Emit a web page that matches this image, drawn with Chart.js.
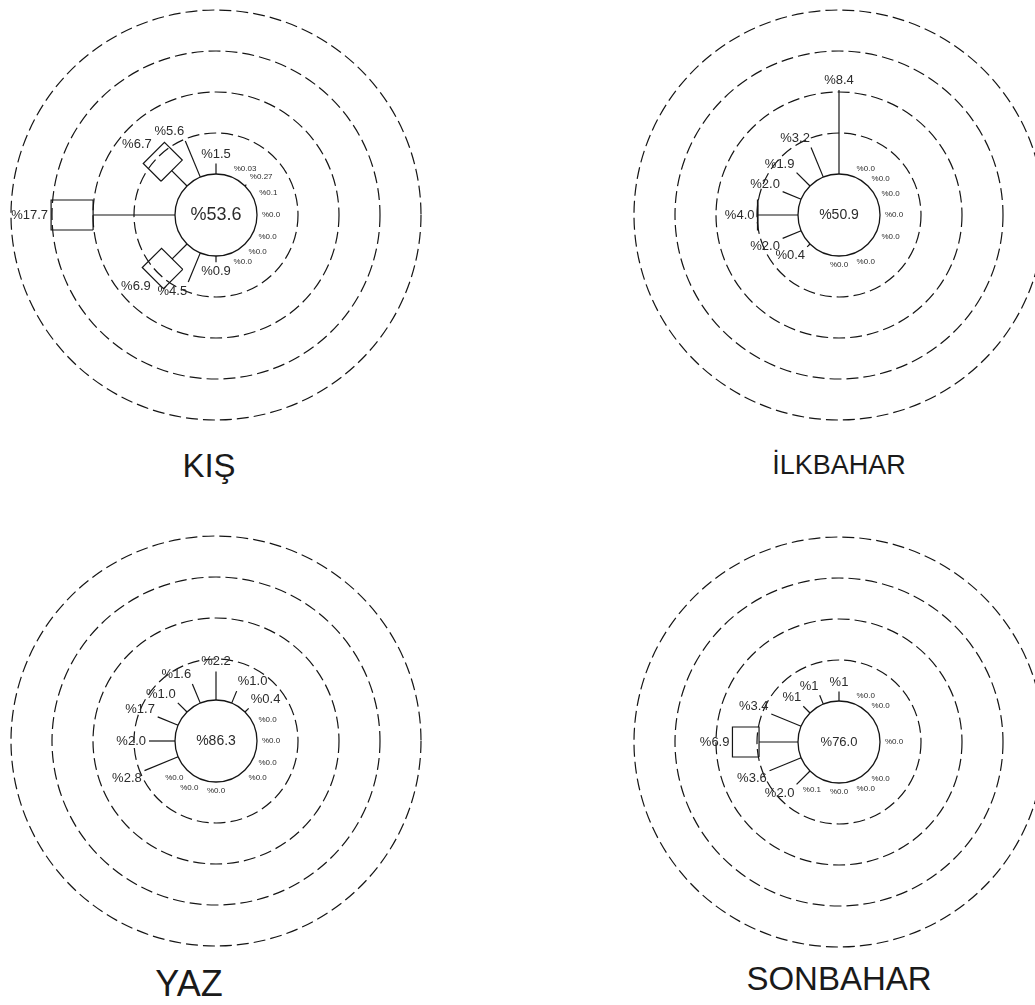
<!DOCTYPE html>
<html>
<head>
<meta charset="utf-8">
<script src="https://cdn.jsdelivr.net/npm/chart.js@4.4.0/dist/chart.umd.min.js"></script>
<style>
body { margin: 0; background: #fff; overflow: hidden; width: 1035px; height: 1005px; position: relative; font-family: "Liberation Sans", Arial, sans-serif; }
canvas { position: absolute; }
.title { position: absolute; color: #1a1a1a; transform: translate(-50%, -50%); white-space: nowrap; }
</style>
</head>
<body>
<canvas id="kis" width="434" height="434" style="left:-1px;top:-2px"></canvas>
<canvas id="ilkbahar" width="434" height="434" style="left:622px;top:-2px"></canvas>
<canvas id="yaz" width="434" height="434" style="left:-1px;top:524px"></canvas>
<canvas id="sonbahar" width="434" height="434" style="left:622px;top:525px"></canvas>
<div class="title" style="left:209px;top:466px;font-size:33px">KIŞ</div>
<div class="title" style="left:839px;top:465px;font-size:27px">İLKBAHAR</div>
<div class="title" style="left:189px;top:984px;font-size:36px">YAZ</div>
<div class="title" style="left:839px;top:979px;font-size:33px">SONBAHAR</div>
<script>
var directions = ['N','NNE','NE','ENE','E','ESE','SE','SSE','S','SSW','SW','WSW','W','WNW','NW','NNW'];

// KIŞ
var kisCalm = 53.6;
var kisLow    = [1.5, 0.03, 0.27, 0.1, 0, 0, 0, 0, 0.9, 4.5, 3.0, null, 11.7, null, 3.1, 5.6];
var kisHigh   = [0, 0, 0, 0, 0, 0, 0, 0, 0, 0, 3.9, null, 6.0, null, 3.6, 0];
var kisLabels = ['%1.5','%0.03','%0.27','%0.1','%0.0','%0.0','%0.0','%0.0','%0.9','%4.5','%6.9',null,'%17.7',null,'%6.7','%5.6'];

// İLKBAHAR
var ilkCalm = 50.9;
var ilkLow    = [8.4, 0, 0, 0, 0, 0, null, 0, 0, null, 0.4, 2.0, 4.0, 2.0, 1.9, 3.2];
var ilkHigh   = [0, 0, 0, 0, 0, 0, null, 0, 0, null, 0, 0, 0.05, 0, 0, 0];
var ilkLabels = ['%8.4','%0.0','%0.0','%0.0','%0.0','%0.0',null,'%0.0','%0.0',null,'%0.4','%2.0','%4.0','%2.0','%1.9','%3.2'];

// YAZ
var yazCalm = 86.3;
var yazLow    = [2.2, 1.0, 0.4, 0, 0, 0, 0, null, 0, 0, 0, 2.8, 2.0, 1.7, 1.0, 1.6];
var yazHigh   = [0, 0, 0, 0, 0, 0, 0, null, 0, 0, 0, 0, 0, 0, 0, 0];
var yazLabels = ['%2.2','%1.0','%0.4','%0.0','%0.0','%0.0','%0.0',null,'%0.0','%0.0','%0.0','%2.8','%2.0','%1.7','%1.0','%1.6'];

// SONBAHAR
var sonCalm = 76.0;
var sonLow    = [1, 0, 0, null, 0, null, 0, 0, 0, 0.1, 2.0, 3.6, 4.1, 3.4, 1, 1];
var sonHigh   = [0, 0, 0, null, 0, null, 0, 0, 0, 0, 0, 0, 2.8, 0, 0, 0];
var sonLabels = ['%1','%0.0','%0.0',null,'%0.0',null,'%0.0','%0.0','%0.0','%0.1','%2.0','%3.6','%6.9','%3.4','%1','%1'];

var CALM_R = 41;      // calm circle radius (axis units = px)
var RING_STEP = 41;
var RING_COUNT = 4;
var BOX_HALF = 15;
var INK = '#151515';
var TEXT = '#2b2b2b';

function polar(r, i, side) {
  var a = i * Math.PI / 8;
  side = side || 0;
  return { x: r * Math.sin(a) + side * Math.cos(a), y: r * Math.cos(a) - side * Math.sin(a) };
}

function makeRose(id, calm, low, high, labels, k, calmFont) {
  var datasets = [];
  for (var i = 0; i < directions.length; i++) {
    if (low[i] == null) continue;
    var r1 = CALM_R + low[i] * k;
    if (low[i] * k >= 1) {
      datasets.push({
        label: directions[i],
        data: [polar(CALM_R, i), polar(r1, i)],
        showLine: true, borderColor: INK, borderWidth: 1.2, pointRadius: 0
      });
    }
    if (high[i] > 0) {
      var r2 = r1 + high[i] * k;
      datasets.push({
        label: directions[i] + ' box',
        data: [polar(r1, i, -BOX_HALF), polar(r2, i, -BOX_HALF), polar(r2, i, BOX_HALF), polar(r1, i, BOX_HALF), polar(r1, i, -BOX_HALF)],
        showLine: true, borderColor: INK, borderWidth: 1.2, pointRadius: 0
      });
    }
  }

  var rosePlugin = {
    id: 'rose',
    beforeDatasetsDraw: function(chart) {
      var c = chart.ctx, xs = chart.scales.x, ys = chart.scales.y;
      var cx = xs.getPixelForValue(0), cy = ys.getPixelForValue(0);
      c.save();
      c.strokeStyle = INK;
      c.lineWidth = 1.2;
      c.setLineDash([12, 5]);
      for (var n = 2; n <= RING_COUNT + 1; n++) {
        var rr = xs.getPixelForValue(RING_STEP * n) - cx;
        c.beginPath();
        c.arc(cx, cy, rr, 0, Math.PI * 2);
        c.stroke();
      }
      c.restore();
    },
    afterDatasetsDraw: function(chart) {
      var c = chart.ctx, xs = chart.scales.x, ys = chart.scales.y;
      var cx = xs.getPixelForValue(0), cy = ys.getPixelForValue(0);
      c.save();
      c.strokeStyle = INK;
      c.lineWidth = 1.3;
      c.fillStyle = '#fff';
      c.beginPath();
      c.arc(cx, cy, xs.getPixelForValue(CALM_R) - cx, 0, Math.PI * 2);
      c.fill();
      c.stroke();
      c.fillStyle = TEXT;
      c.textAlign = 'center';
      c.textBaseline = 'middle';
      c.font = calmFont + 'px "Liberation Sans", Arial, sans-serif';
      c.fillText('%' + calm.toFixed(1), cx, cy);
      for (var i = 0; i < directions.length; i++) {
        if (labels[i] == null) continue;
        var total = (low[i] || 0) + (high[i] || 0);
        var small = total < 0.3;
        var rEnd = CALM_R + total * k + (small ? 5 : 3);
        var p = polar(rEnd, i);
        var a = i * Math.PI / 8, sx = Math.sin(a), sy = Math.cos(a);
        c.textAlign = sx < -0.35 ? 'right' : (sx > 0.35 ? 'left' : 'center');
        c.textBaseline = sy > 0.35 ? 'bottom' : (sy < -0.35 ? 'top' : 'middle');
        c.font = (small ? 8 : 13) + 'px "Liberation Sans", Arial, sans-serif';
        c.fillText(labels[i], xs.getPixelForValue(p.x), ys.getPixelForValue(p.y));
      }
      c.restore();
    }
  };

  return new Chart(document.getElementById(id), {
    type: 'scatter',
    data: { datasets: datasets },
    options: {
      responsive: false,
      animation: false,
      events: [],
      layout: { padding: 0 },
      plugins: { legend: { display: false }, tooltip: { enabled: false } },
      scales: {
        x: { display: false, min: -217, max: 217 },
        y: { display: false, min: -217, max: 217 }
      }
    },
    plugins: [rosePlugin]
  });
}

var kisChart = makeRose('kis', kisCalm, kisLow, kisHigh, kisLabels, 7, 18);
var ilkChart = makeRose('ilkbahar', ilkCalm, ilkLow, ilkHigh, ilkLabels, 10, 14);
var yazChart = makeRose('yaz', yazCalm, yazLow, yazHigh, yazLabels, 13, 14);
var sonChart = makeRose('sonbahar', sonCalm, sonLow, sonHigh, sonLabels, 9.5, 13);
</script>
</body>
</html>
